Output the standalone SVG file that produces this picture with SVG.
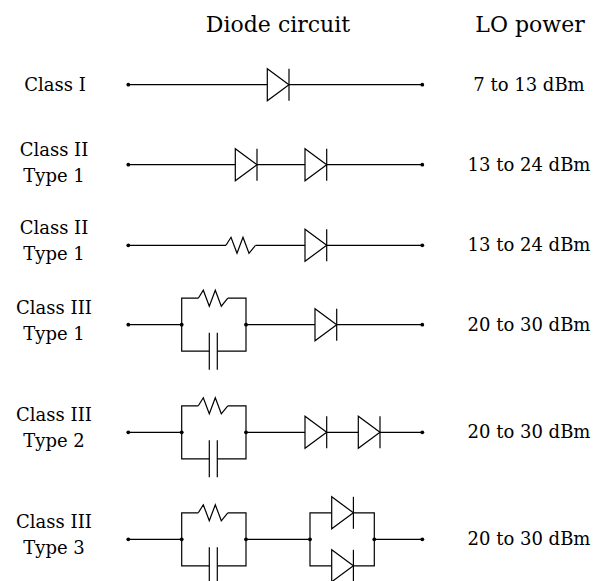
<svg xmlns="http://www.w3.org/2000/svg" xmlns:xlink="http://www.w3.org/1999/xlink" width="598" height="581" viewBox="0 0 598 581">
<style>
.w{stroke:#000;stroke-width:1.2;fill:none;stroke-linecap:butt}
.t{font-family:'DejaVu Serif',serif;font-size:18px;fill:#000;text-anchor:middle}
.h{font-family:'DejaVu Serif',serif;font-size:22px;fill:#000;text-anchor:middle}
</style>
<defs>
<g id="diode">
<path d="M0,-16 L0,16 L21.7,0 Z" fill="#fff" stroke="#000" stroke-width="1.2" stroke-linejoin="miter"/>
<line x1="21.7" y1="-16" x2="21.7" y2="16" stroke="#000" stroke-width="1.2"/>
</g>
<path id="res" d="M0,0 L5,-8 L11,8 L17,-8 L23,8 L29.5,0" fill="none" stroke="#000" stroke-width="1.2" stroke-linejoin="miter"/>
<g id="cap">
<line x1="0" y1="-18.5" x2="0" y2="18.5" stroke="#000" stroke-width="1.2"/>
<line x1="8" y1="-18.5" x2="8" y2="18.5" stroke="#000" stroke-width="1.2"/>
</g>
<circle id="dot" r="1.9" fill="#000"/>
</defs>
<rect width="598" height="581" fill="#fff"/>

<g id="headers">
<text class="h" x="278" y="32">Diode circuit</text>
<text class="h" x="530" y="32">LO power</text>
</g>

<g id="labels">
<text class="t" x="55" y="90.5">Class I</text>
<text class="t" x="54" y="155.7">Class II</text>
<text class="t" x="54" y="181.7">Type 1</text>
<text class="t" x="54" y="234.3">Class II</text>
<text class="t" x="54" y="260">Type 1</text>
<text class="t" x="54" y="313.7">Class III</text>
<text class="t" x="54" y="339.7">Type 1</text>
<text class="t" x="54" y="421.3">Class III</text>
<text class="t" x="54" y="447.3">Type 2</text>
<text class="t" x="54" y="528.3">Class III</text>
<text class="t" x="54" y="554.3">Type 3</text>
</g>

<g id="powers">
<text class="t" x="529" y="90.5">7 to 13 dBm</text>
<text class="t" x="529" y="170.5">13 to 24 dBm</text>
<text class="t" x="529" y="251">13 to 24 dBm</text>
<text class="t" x="529" y="330.5">20 to 30 dBm</text>
<text class="t" x="529" y="438">20 to 30 dBm</text>
<text class="t" x="529" y="545">20 to 30 dBm</text>
</g>

<g id="connectors" class="w">
<path d="M128.3,84.7 H267.3 M289,84.7 H422.3"/>
<path d="M128.3,164.7 H235.3 M257,164.7 H305 M326.7,164.7 H422.3"/>
<path d="M128.3,245.3 H226 M255.5,245.3 H305 M326.7,245.3 H422.3"/>
<path d="M128.3,324.7 H181.7 M246,324.7 H315 M336.7,324.7 H422.3"/>
<path d="M198.3,298.2 H181.7 V351.2 H209.3 M217.3,351.2 H246 V298.2 H227.8"/>
<path d="M128.3,432.3 H181.7 M246,432.3 H305 M326.7,432.3 H358.3 M380,432.3 H422.3"/>
<path d="M198.3,405.8 H181.7 V458.8 H209.3 M217.3,458.8 H246 V405.8 H227.8"/>
<path d="M128.3,539.3 H181.7 M246,539.3 H310 M374.3,539.3 H422.3"/>
<path d="M198.3,512.8 H181.7 V565.8 H209.3 M217.3,565.8 H246 V512.8 H227.8"/>
<path d="M331.7,512.8 H310 V565.8 H331.7 M353.4,565.8 H374.3 V512.8 H353.4"/>
</g>

<g id="row1">
<use xlink:href="#dot" x="128.3" y="84.7"/>
<use xlink:href="#diode" x="267.3" y="84.7"/>
<use xlink:href="#dot" x="422.3" y="84.7"/>
</g>
<g id="row2">
<use xlink:href="#dot" x="128.3" y="164.7"/>
<use xlink:href="#diode" x="235.3" y="164.7"/>
<use xlink:href="#diode" x="305" y="164.7"/>
<use xlink:href="#dot" x="422.3" y="164.7"/>
</g>
<g id="row3">
<use xlink:href="#dot" x="128.3" y="245.3"/>
<use xlink:href="#res" x="226" y="245.3"/>
<use xlink:href="#diode" x="305" y="245.3"/>
<use xlink:href="#dot" x="422.3" y="245.3"/>
</g>
<g id="row4">
<use xlink:href="#dot" x="128.3" y="324.7"/>
<use xlink:href="#dot" x="181.7" y="324.7"/>
<use xlink:href="#res" x="198.3" y="298.2"/>
<use xlink:href="#cap" x="209.3" y="351.2"/>
<use xlink:href="#dot" x="246" y="324.7"/>
<use xlink:href="#diode" x="315" y="324.7"/>
<use xlink:href="#dot" x="422.3" y="324.7"/>
</g>
<g id="row5">
<use xlink:href="#dot" x="128.3" y="432.3"/>
<use xlink:href="#dot" x="181.7" y="432.3"/>
<use xlink:href="#res" x="198.3" y="405.8"/>
<use xlink:href="#cap" x="209.3" y="458.8"/>
<use xlink:href="#dot" x="246" y="432.3"/>
<use xlink:href="#diode" x="305" y="432.3"/>
<use xlink:href="#diode" x="358.3" y="432.3"/>
<use xlink:href="#dot" x="422.3" y="432.3"/>
</g>
<g id="row6">
<use xlink:href="#dot" x="128.3" y="539.3"/>
<use xlink:href="#dot" x="181.7" y="539.3"/>
<use xlink:href="#res" x="198.3" y="512.8"/>
<use xlink:href="#cap" x="209.3" y="565.8"/>
<use xlink:href="#dot" x="246" y="539.3"/>
<use xlink:href="#dot" x="310" y="539.3"/>
<use xlink:href="#diode" x="331.7" y="512.8"/>
<use xlink:href="#diode" x="331.7" y="565.8"/>
<use xlink:href="#dot" x="374.3" y="539.3"/>
<use xlink:href="#dot" x="422.3" y="539.3"/>
</g>
</svg>
